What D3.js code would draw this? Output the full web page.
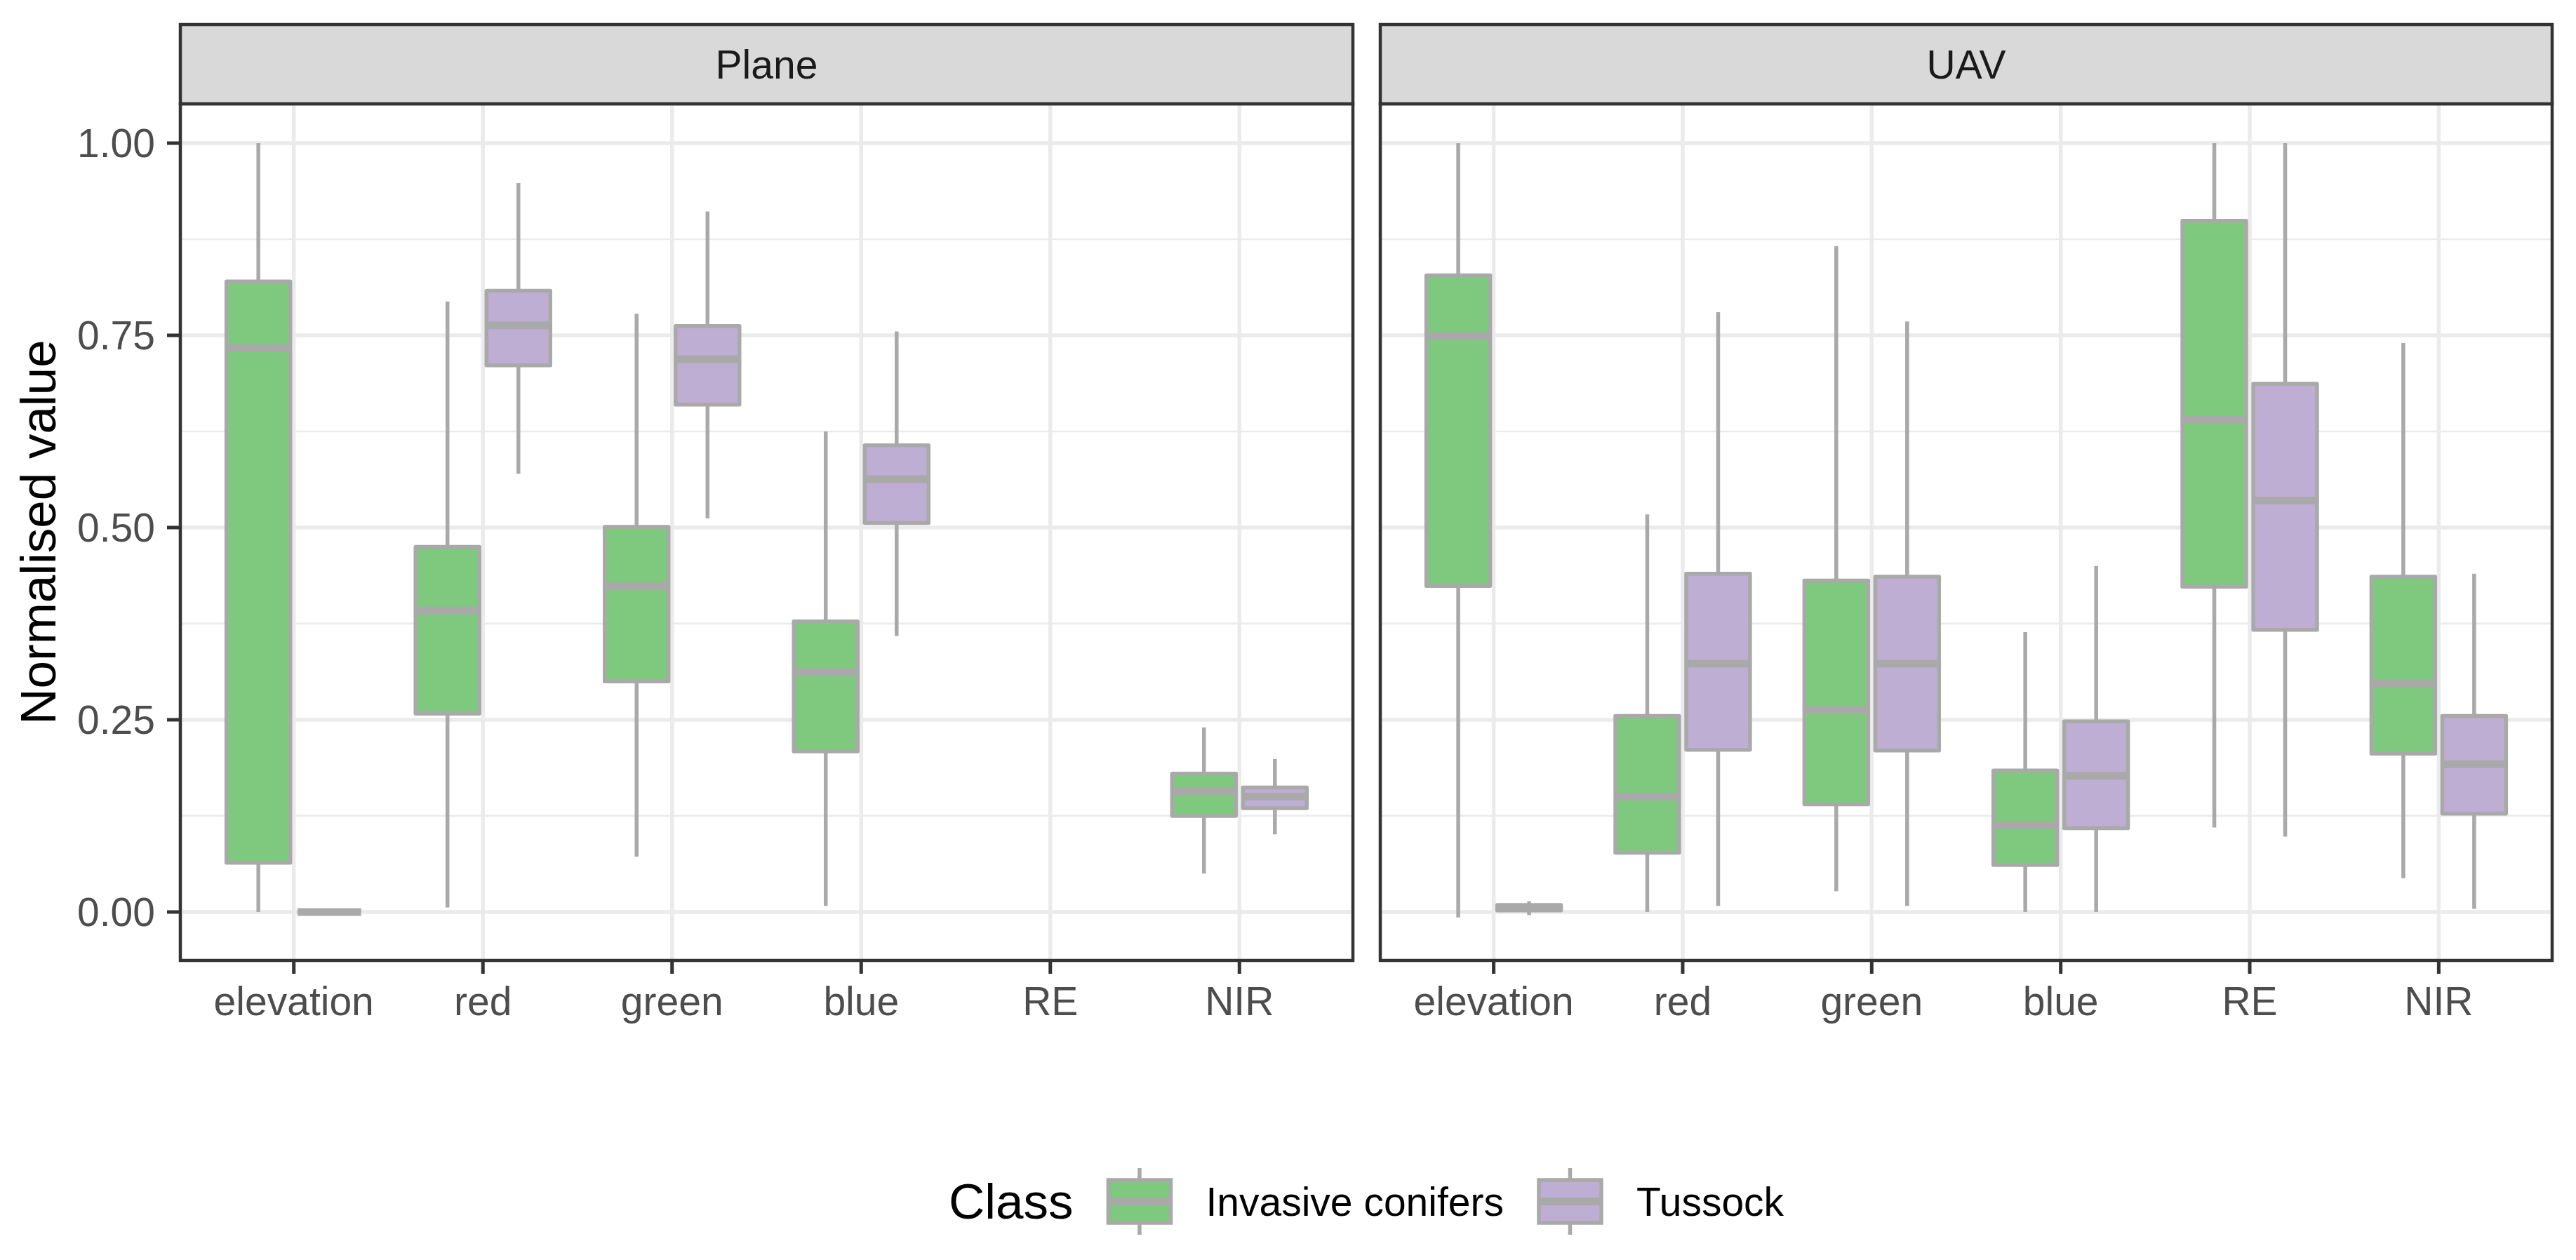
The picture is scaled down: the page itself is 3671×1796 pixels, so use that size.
<!DOCTYPE html>
<html>
<head>
<meta charset="utf-8">
<script src="https://cdn.jsdelivr.net/npm/d3@7"></script>
<style>
  html, body { margin: 0; padding: 0; background: #ffffff; }
  svg { display: block; }
  text { font-family: "Liberation Sans", Arial, sans-serif; }
</style>
</head>
<body>
<svg id="chart" width="3671" height="1796"></svg>
<script>
// ---------------- DATA ----------------
const categories = ["elevation", "red", "green", "blue", "RE", "NIR"];
const panels = ["Plane", "UAV"];
const classes = ["Invasive conifers", "Tussock"];
const yTicks = [0, 0.25, 0.5, 0.75, 1];
const yTickLabels = ["0.00", "0.25", "0.50", "0.75", "1.00"];
const yMinorTicks = [0.125, 0.375, 0.625, 0.875];

// each entry: [lower whisker, Q1, median, Q3, upper whisker]; null = no data
const planeInvasive = [
  [0.000, 0.064, 0.733, 0.820, 1.000],
  [0.006, 0.258, 0.392, 0.475, 0.794],
  [0.072, 0.300, 0.424, 0.501, 0.778],
  [0.008, 0.209, 0.312, 0.378, 0.625],
  null,
  [0.050, 0.125, 0.157, 0.180, 0.240]
];
const planeTussock = [
  [0.000, 0.000, 0.000, 0.000, 0.000],
  [0.570, 0.711, 0.763, 0.808, 0.948],
  [0.512, 0.660, 0.719, 0.762, 0.911],
  [0.359, 0.506, 0.563, 0.607, 0.755],
  null,
  [0.101, 0.135, 0.150, 0.162, 0.199]
];
const uavInvasive = [
  [-0.007, 0.424, 0.749, 0.828, 1.000],
  [0.000, 0.077, 0.150, 0.255, 0.517],
  [0.027, 0.140, 0.263, 0.431, 0.866],
  [0.000, 0.061, 0.113, 0.184, 0.364],
  [0.110, 0.423, 0.640, 0.899, 1.000],
  [0.044, 0.206, 0.297, 0.436, 0.740]
];
const uavTussock = [
  [-0.004, 0.002, 0.006, 0.009, 0.014],
  [0.008, 0.211, 0.323, 0.440, 0.780],
  [0.008, 0.210, 0.323, 0.436, 0.768],
  [0.000, 0.109, 0.177, 0.248, 0.450],
  [0.098, 0.367, 0.535, 0.687, 1.000],
  [0.004, 0.128, 0.192, 0.255, 0.440]
];

const seriesByPanel = {
  "Plane": [planeInvasive, planeTussock],
  "UAV": [uavInvasive, uavTussock]
};

// ---------------- STYLE / LAYOUT ----------------
const fills = ["#7FC97F", "#BEAED4"];
const outline = "#A9A9A9";
const gridCol = "#EBEBEB";
const borderCol = "#333333";
const stripFill = "#D9D9D9";
const axisTextCol = "#4D4D4D";

const panelX = [[257, 1928], [1967, 3637]];
const panelTop = 148, panelBottom = 1369;
const stripTop = 35;
const lineW = 5.5, medianW = 11;
const boxWidth = 0.75, dodgePad = 0.1;

const svg = d3.select("#chart");

const y = d3.scaleLinear().domain([-0.063, 1.0511]).range([panelBottom, panelTop]);

panels.forEach((p, pi) => {
  const [x0, x1] = panelX[pi];
  const x = d3.scaleLinear().domain([0.4, categories.length + 0.6]).range([x0, x1]);
  const g = svg.append("g");

  // minor grid
  g.selectAll(".ymin").data(yMinorTicks).enter().append("line")
    .attr("x1", x0).attr("x2", x1)
    .attr("y1", d => y(d)).attr("y2", d => y(d))
    .attr("stroke", gridCol).attr("stroke-width", 2.7);
  // major grid
  g.selectAll(".ymaj").data(yTicks).enter().append("line")
    .attr("x1", x0).attr("x2", x1)
    .attr("y1", d => y(d)).attr("y2", d => y(d))
    .attr("stroke", gridCol).attr("stroke-width", 5.5);
  g.selectAll(".xmaj").data(categories).enter().append("line")
    .attr("x1", (d, i) => x(i + 1)).attr("x2", (d, i) => x(i + 1))
    .attr("y1", panelTop).attr("y2", panelBottom)
    .attr("stroke", gridCol).attr("stroke-width", 5.5);

  // boxplots
  const slot = boxWidth / classes.length;
  const bw = slot * (1 - dodgePad);
  seriesByPanel[p].forEach((series, ci) => {
    const off = -boxWidth / 2 + slot * (ci + 0.5);
    series.forEach((s, i) => {
      if (!s) return;
      const cx = x(i + 1 + off);
      const left = x(i + 1 + off - bw / 2), right = x(i + 1 + off + bw / 2);
      const bg = g.append("g");
      // whiskers
      bg.append("line").attr("x1", cx).attr("x2", cx)
        .attr("y1", y(s[0])).attr("y2", y(s[1]))
        .attr("stroke", outline).attr("stroke-width", lineW);
      bg.append("line").attr("x1", cx).attr("x2", cx)
        .attr("y1", y(s[3])).attr("y2", y(s[4]))
        .attr("stroke", outline).attr("stroke-width", lineW);
      // box
      bg.append("rect")
        .attr("x", left).attr("width", right - left)
        .attr("y", y(s[3])).attr("height", Math.max(0, y(s[1]) - y(s[3])))
        .attr("fill", fills[ci]).attr("stroke", outline).attr("stroke-width", lineW)
        .attr("stroke-linejoin", "round");
      // median
      bg.append("line").attr("x1", left).attr("x2", right)
        .attr("y1", y(s[2])).attr("y2", y(s[2]))
        .attr("stroke", outline).attr("stroke-width", medianW);
    });
  });

  // panel border
  g.append("rect").attr("x", x0).attr("y", panelTop)
    .attr("width", x1 - x0).attr("height", panelBottom - panelTop)
    .attr("fill", "none").attr("stroke", borderCol).attr("stroke-width", 4.5);

  // strip
  g.append("rect").attr("x", x0).attr("y", stripTop)
    .attr("width", x1 - x0).attr("height", panelTop - stripTop)
    .attr("fill", stripFill).attr("stroke", borderCol).attr("stroke-width", 4.5);
  g.append("text").attr("x", (x0 + x1) / 2).attr("y", (stripTop + panelTop) / 2)
    .attr("text-anchor", "middle").attr("dominant-baseline", "central")
    .attr("font-size", 57).attr("fill", "#1A1A1A").text(p);

  // x axis ticks and labels
  g.selectAll(".xt").data(categories).enter().append("line")
    .attr("x1", (d, i) => x(i + 1)).attr("x2", (d, i) => x(i + 1))
    .attr("y1", panelBottom).attr("y2", panelBottom + 19)
    .attr("stroke", borderCol).attr("stroke-width", 5);
  g.selectAll(".xl").data(categories).enter().append("text")
    .attr("x", (d, i) => x(i + 1)).attr("y", 1447)
    .attr("text-anchor", "middle").attr("font-size", 57)
    .attr("fill", axisTextCol).text(d => d);

  // y axis (only left panel)
  if (pi === 0) {
    g.selectAll(".yt").data(yTicks).enter().append("line")
      .attr("x1", x0 - 19).attr("x2", x0)
      .attr("y1", d => y(d)).attr("y2", d => y(d))
      .attr("stroke", borderCol).attr("stroke-width", 5);
    g.selectAll(".yl").data(yTicks).enter().append("text")
      .attr("x", 221).attr("y", d => y(d))
      .attr("text-anchor", "end").attr("dominant-baseline", "central")
      .attr("font-size", 57).attr("fill", axisTextCol)
      .text((d, i) => yTickLabels[i]);
  }
});

// y axis title
svg.append("text")
  .attr("transform", `translate(79, ${(panelTop + panelBottom) / 2}) rotate(-90)`)
  .attr("text-anchor", "middle").attr("font-size", 71).attr("fill", "#000000")
  .text("Normalised value");

// ---------------- LEGEND ----------------
const legendY = 1712.5;
const keyW = 89, boxH = 61, whiskH = 95;
const leg = svg.append("g");
const title = leg.append("text").attr("y", legendY).attr("dominant-baseline", "central")
  .attr("font-size", 71).attr("fill", "#000").text("Class");
const titleW = title.node().getComputedTextLength();
const labels = classes.map(c => {
  const t = leg.append("text").attr("y", legendY).attr("dominant-baseline", "central")
    .attr("font-size", 57).attr("fill", "#000").text(c);
  return t;
});
const labelWs = labels.map(t => t.node().getComputedTextLength());
const gap = 50;
let total = titleW;
labelWs.forEach(w => { total += gap + keyW + gap + w; });
total += gap * (classes.length - 1) * 0; // items separated by gap already
let cur = (panelX[0][0] + panelX[1][1]) / 2 - total / 2;
title.attr("x", cur);
cur += titleW;
classes.forEach((c, ci) => {
  cur += gap;
  const cx = cur + keyW / 2;
  leg.append("line").attr("x1", cx).attr("x2", cx)
    .attr("y1", legendY - whiskH / 2).attr("y2", legendY + whiskH / 2)
    .attr("stroke", outline).attr("stroke-width", lineW);
  leg.append("rect").attr("x", cur).attr("y", legendY - boxH / 2)
    .attr("width", keyW).attr("height", boxH)
    .attr("fill", fills[ci]).attr("stroke", outline).attr("stroke-width", lineW);
  leg.append("line").attr("x1", cur).attr("x2", cur + keyW)
    .attr("y1", legendY).attr("y2", legendY)
    .attr("stroke", outline).attr("stroke-width", medianW);
  cur += keyW + gap;
  labels[ci].attr("x", cur);
  cur += labelWs[ci];
});
</script>
</body>
</html>
